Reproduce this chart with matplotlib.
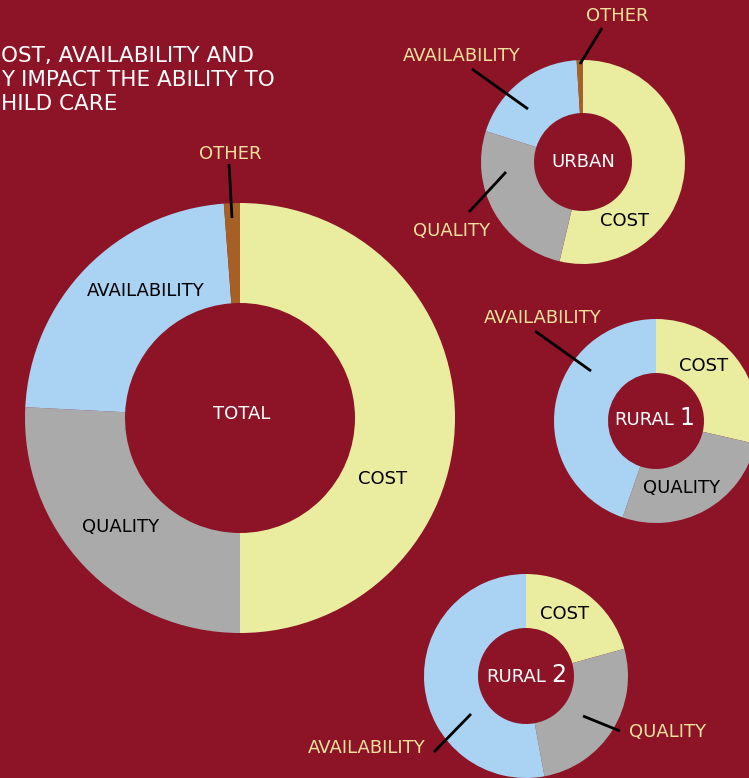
import matplotlib.pyplot as plt

categories = ["COST", "QUALITY", "AVAILABILITY", "OTHER"]
total = [50.0, 25.8, 23.0, 1.2]
urban = [53.7, 26.2, 19.1, 1.0]
rural_1 = [28.6, 26.7, 44.7]
rural_2 = [20.7, 26.4, 52.9]

title_lines = ["OST, AVAILABILITY AND", "Y IMPACT THE ABILITY TO", "HILD CARE"]

W, H = 749, 778
BG = "#8D1427"
COLORS = ["#EAEC9F", "#AAAAAA", "#AAD2F2", "#A65F25"]
PALE = "#F0E29C"
FS = 13

plt.rcParams["font.family"] = ["DejaVu Sans"]

fig = plt.figure(figsize=(W / 100, H / 100), dpi=100, facecolor=BG)
ax = fig.add_axes([0, 0, 1, 1])
ax.set_facecolor(BG)


def py(y):
    # picture rows run downwards, data y runs upwards
    return H - y


def ring(values, cx, cy, r, r_in):
    ax.pie(values, colors=COLORS[:len(values)], center=(cx, py(cy)), radius=r,
           startangle=90, counterclock=False,
           wedgeprops=dict(width=r - r_in, linewidth=0))


def label(txt, x, y, color="black", size=FS):
    ax.text(x, py(y), txt, color=color, fontsize=size, ha="center", va="center")


def leader(x0, y0, x1, y1):
    ax.plot([x0, x1], [py(y0), py(y1)], color="black", lw=2, solid_capstyle="butt")


ring(total, 240, 418, 215, 115)
ring(urban, 583, 162, 102, 49)
ring(rural_1, 656, 421, 102, 48)
ring(rural_2, 526, 676, 102, 48)

# title (its start is cut by the left edge in the source)
for i, line in enumerate(title_lines):
    ax.text(1, py(56 + 24 * i), line, color="white", fontsize=15.5,
            ha="left", va="center")

# total
label("TOTAL", 242, 414, color="white")
label("AVAILABILITY", 146, 291)
label("QUALITY", 121, 527)
label("COST", 383, 479)
label("OTHER", 230, 154, color=PALE)
leader(229, 164, 232, 218)

# urban
label("URBAN", 583, 162, color="white")
label("COST", 625, 221)
label("OTHER", 617, 16, color=PALE)
leader(602, 28, 580, 64)
label("AVAILABILITY", 462, 56, color=PALE)
leader(472, 69, 528, 109)
label("QUALITY", 452, 231, color=PALE)
leader(469, 212, 506, 172)

# rural 1
ax.text(674, py(420), "RURAL", color="white", fontsize=FS, ha="right", va="center")
ax.text(679, py(418), "1", color="white", fontsize=17, ha="left", va="center")
label("COST", 704, 366)
label("QUALITY", 682, 488)
label("AVAILABILITY", 543, 318, color=PALE)
leader(535, 331, 591, 371)

# rural 2
ax.text(546, py(677), "RURAL", color="white", fontsize=FS, ha="right", va="center")
ax.text(551, py(675), "2", color="white", fontsize=17, ha="left", va="center")
label("COST", 565, 614)
label("QUALITY", 668, 732, color=PALE)
leader(620, 731, 583, 716)
label("AVAILABILITY", 367, 748, color=PALE)
leader(434, 752, 471, 714)

ax.set_xlim(0, W)
ax.set_ylim(0, H)
ax.set_aspect("equal")
ax.axis("off")

fig.savefig("out.png", dpi=100, facecolor=BG)
